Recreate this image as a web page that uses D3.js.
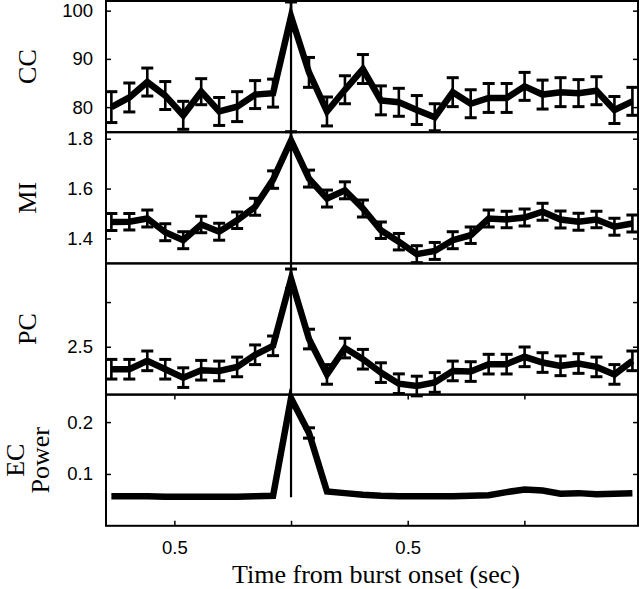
<!DOCTYPE html>
<html>
<head>
<meta charset="utf-8">
<script src="https://cdn.jsdelivr.net/npm/d3@7"></script>
<style>
  html, body { margin: 0; padding: 0; background: #ffffff; }
  svg { display: block; }
</style>
</head>
<body>
<svg id="chart" width="640" height="589"></svg>
<script>
// ---------------- DATA ----------------
const times = [-0.770,-0.693,-0.616,-0.539,-0.462,-0.385,-0.308,-0.231,-0.154,-0.077,
               0.000,0.077,0.154,0.231,0.308,0.385,0.462,0.539,0.616,0.693,
               0.770,0.847,0.924,1.001,1.078,1.155,1.232,1.309,1.386,1.463];

const ccValues = [80.0,82.0,85.2,82.4,78.3,83.2,79.1,80.1,82.6,82.9,
                  98.8,87.2,79.1,83.6,87.9,81.4,81.0,79.4,77.9,83.1,
                  80.7,81.9,81.9,84.3,82.6,83.1,82.9,83.4,79.4,81.2];
const ccErrors = [3.2,3.0,2.9,2.9,2.9,2.7,2.9,3.1,2.9,2.9,
                  3.0,3.1,3.0,2.9,3.0,3.0,2.9,3.0,2.8,3.0,
                  2.9,3.0,3.0,2.9,3.0,3.0,2.8,2.9,2.8,2.9];

const miValues = [1.466,1.467,1.480,1.425,1.393,1.456,1.427,1.473,1.527,1.636,
                  1.793,1.640,1.560,1.593,1.520,1.433,1.387,1.337,1.350,1.393,
                  1.413,1.480,1.476,1.484,1.507,1.476,1.467,1.476,1.447,1.460];
const miErrors = [0.034,0.033,0.034,0.034,0.034,0.033,0.034,0.033,0.034,0.035,
                  0.035,0.034,0.034,0.034,0.034,0.033,0.033,0.034,0.034,0.034,
                  0.033,0.034,0.033,0.034,0.034,0.034,0.034,0.033,0.034,0.034];

const pcValues = [2.248,2.248,2.342,2.248,2.154,2.237,2.229,2.274,2.410,2.510,
                  3.260,2.586,2.190,2.485,2.360,2.210,2.086,2.060,2.100,2.229,
                  2.222,2.305,2.305,2.387,2.323,2.286,2.312,2.274,2.190,2.342];
const pcErrors = [0.11,0.11,0.11,0.11,0.11,0.11,0.11,0.11,0.11,0.11,
                  0.11,0.11,0.11,0.11,0.11,0.11,0.11,0.11,0.11,0.11,
                  0.11,0.11,0.11,0.11,0.11,0.11,0.11,0.11,0.11,0.11];

const ecValues = [0.057,0.057,0.057,0.056,0.056,0.056,0.056,0.056,0.057,0.058,
                  0.246,0.179,0.066,0.063,0.060,0.058,0.057,0.057,0.057,0.057,
                  0.058,0.059,0.065,0.070,0.068,0.062,0.063,0.061,0.062,0.063];
const ecErrors = [0,0,0,0,0,0,0,0,0,0,
                  0,0.010,0,0,0,0,0,0,0,0,
                  0,0,0,0,0,0,0,0,0,0];

const panelLabels = [["CC"], ["MI"], ["PC"], ["EC", "Power"]];
const yDomains = [[74.8, 102], [1.30, 1.826], [1.964, 3.433], [0, 0.253]];
const yTickValues = [[80, 90, 100], [1.4, 1.6, 1.8], [2.5, 3.0], [0.1, 0.2]];
const yTickLabels = [["80", "90", "100"], ["1.4", "1.6", "1.8"], ["2.5", ""], ["0.1", "0.2"]];

const xDomain = [-0.793, 1.487];
const xTickValues = [-0.5, 0, 0.5, 1.0];
const xTickLabels = ["0.5", "", "0.5", ""];
const xLabel = "Time from burst onset (sec)";
const onsetTime = 0;
const onsetLineBottomValue = 0.055; // EC value where the onset marker stops

// ---------------- LAYOUT ----------------
const svg = d3.select("#chart");
const left = 106, right = 638, top0 = 1, panelH = 131.2;
const sansFont = "'Liberation Sans', Arial, Helvetica, sans-serif";
const serifFont = "'Liberation Serif', 'Times New Roman', Times, serif";

const x = d3.scaleLinear().domain(xDomain).range([left, right]);

const seriesValues = [ccValues, miValues, pcValues, ecValues];
const seriesErrors = [ccErrors, miErrors, pcErrors, ecErrors];

svg.append("rect").attr("width", 640).attr("height", 589).attr("fill", "#ffffff");

const tickLen = 5;
let ecScale = null;

seriesValues.forEach((vals, p) => {
  const yTop = top0 + p * panelH;
  const yBot = yTop + panelH;
  const y = d3.scaleLinear().domain(yDomains[p]).range([yBot, yTop]);
  if (p === 3) ecScale = y;
  const g = svg.append("g");

  // left axis ticks + labels (ticks point inward)
  const leftAxis = d3.axisLeft(y).tickValues(yTickValues[p])
    .tickSize(-tickLen).tickPadding(8 + tickLen)
    .tickFormat((d, i) => yTickLabels[p][i]);
  const la = g.append("g").attr("transform", `translate(${left},0)`).call(leftAxis);
  la.select(".domain").remove();
  la.selectAll(".tick line").attr("stroke", "#000").attr("stroke-width", 1.5);
  la.selectAll(".tick text").attr("font-family", sansFont).attr("font-size", 18.5).attr("fill", "#000");

  // right axis ticks (inward, no labels)
  const rightAxis = d3.axisRight(y).tickValues(yTickValues[p]).tickSize(-tickLen).tickFormat("");
  const ra = g.append("g").attr("transform", `translate(${right},0)`).call(rightAxis);
  ra.select(".domain").remove();
  ra.selectAll(".tick line").attr("stroke", "#000").attr("stroke-width", 1.5);

  // frame
  g.append("rect").attr("x", left).attr("y", yTop).attr("width", right - left).attr("height", panelH)
    .attr("fill", "none").attr("stroke", "#000").attr("stroke-width", 2);

  // panel label
  const labs = panelLabels[p];
  const cy = (yTop + yBot) / 2;
  const xs = labs.length === 1 ? [27] : [15, 40];
  labs.forEach((t, k) => {
    g.append("text")
      .attr("transform", `translate(${xs[k]},${cy}) rotate(-90)`)
      .attr("text-anchor", "middle").attr("dominant-baseline", "central")
      .attr("font-family", serifFont).attr("font-size", 26).attr("fill", "#000")
      .text(t);
  });

  // line
  const line = d3.line().x((d, i) => x(times[i])).y(d => y(d));
  g.append("path").datum(vals).attr("d", line)
    .attr("fill", "none").attr("stroke", "#000").attr("stroke-width", 6.5)
    .attr("stroke-linejoin", "miter").attr("stroke-miterlimit", 10);

  // error bars
  const errs = seriesErrors[p];
  const capW = 6;
  vals.forEach((v, i) => {
    const e = errs[i];
    if (!e) return;
    const cx = x(times[i]);
    const y1 = y(v + e), y2 = y(v - e);
    g.append("line").attr("x1", cx).attr("x2", cx).attr("y1", y1).attr("y2", y2)
      .attr("stroke", "#000").attr("stroke-width", 2.6);
    [y1, y2].forEach(yy => {
      g.append("line").attr("x1", cx - capW).attr("x2", cx + capW).attr("y1", yy).attr("y2", yy)
        .attr("stroke", "#000").attr("stroke-width", 3);
    });
  });

  // x ticks on the bottom panel only (top and bottom, inward)
  if (p === 3) {
    const bAxis = d3.axisBottom(x).tickValues(xTickValues).tickSize(-tickLen)
      .tickPadding(10 + tickLen).tickFormat((d, i) => xTickLabels[i]);
    const ba = g.append("g").attr("transform", `translate(0,${yBot})`).call(bAxis);
    ba.select(".domain").remove();
    ba.selectAll(".tick line").attr("stroke", "#000").attr("stroke-width", 1.5);
    ba.selectAll(".tick text").attr("font-family", sansFont).attr("font-size", 18.5).attr("fill", "#000");
    const tAxis = d3.axisTop(x).tickValues(xTickValues).tickSize(-tickLen).tickFormat("");
    const ta = g.append("g").attr("transform", `translate(0,${yTop})`).call(tAxis);
    ta.select(".domain").remove();
    ta.selectAll(".tick line").attr("stroke", "#000").attr("stroke-width", 1.5);
  }
});

// onset marker line
svg.append("line")
  .attr("x1", x(onsetTime)).attr("x2", x(onsetTime))
  .attr("y1", 0).attr("y2", ecScale(onsetLineBottomValue))
  .attr("stroke", "#000").attr("stroke-width", 2.2);

// x axis title
svg.append("text")
  .attr("x", 376).attr("y", 583)
  .attr("text-anchor", "middle")
  .attr("font-family", serifFont).attr("font-size", 26).attr("fill", "#000")
  .text(xLabel);
</script>
</body>
</html>
